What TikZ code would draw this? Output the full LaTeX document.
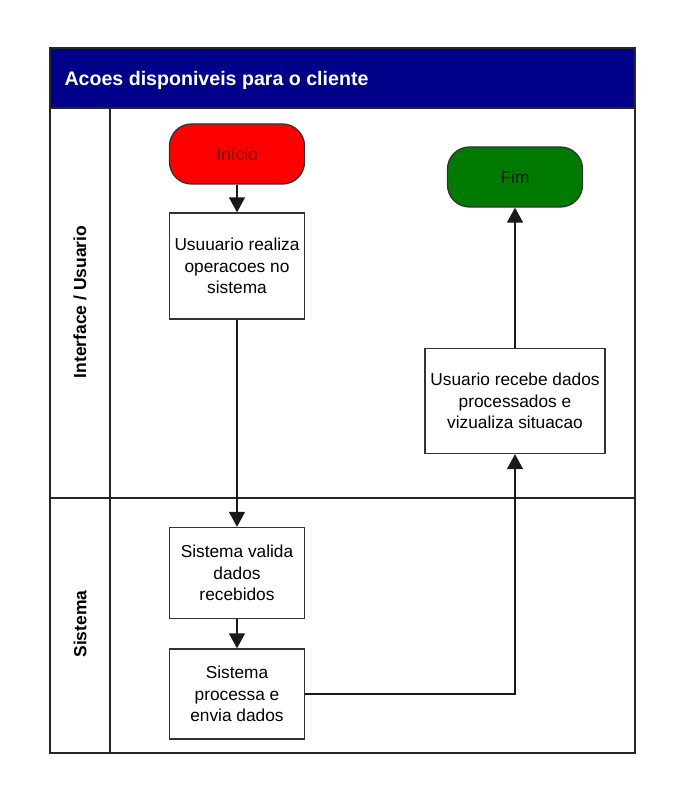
\documentclass[tikz,border=0pt]{standalone}
\usepackage{fontspec}
\setmainfont{Liberation Sans}
\usetikzlibrary{arrows.meta}

\definecolor{headblue}{HTML}{000088}
\definecolor{startred}{HTML}{FF0000}
\definecolor{endgreen}{HTML}{007A00}

\tikzset{
  lane/.style={draw=black!85, line width=1.4pt},
  box/.style={draw=black!80, fill=white, line width=1.3pt, inner sep=1pt,
    minimum width=135pt, align=center, font=\fontsize{17.3}{21.5}\selectfont},
  term/.style={box, rounded corners=22pt, minimum height=60pt},
  flow/.style={draw=black!90, line width=1.3pt, -{Triangle[length=15pt,width=16pt]}},
  lanetext/.style={rotate=90, font=\fontsize{17.5}{20}\selectfont\bfseries},
}

\begin{document}
\begin{tikzpicture}[x=1pt, y=-1pt]
    \useasboundingbox (0,0) rectangle (685,805);

    % pool and lanes
    \fill[headblue] (50,48) rectangle (635,108);
    \draw[lane] (50,48) rectangle (635,753);
    \draw[lane] (50,108) -- (635,108);
    \draw[lane] (110,108) -- (110,753);
    \draw[lane] (50,498) -- (635,498);
    \node[anchor=west, text=white, font=\fontsize{19.6}{22}\selectfont\bfseries] (title) at (61,80) {Acoes disponiveis para o cliente};
    \node[lanetext] (ui)  at (80,302) {Interface / Usuario};
    \node[lanetext] (sys) at (80,624) {Sistema};

    % steps
    \node[term, fill=startred, text=red!45!black] (ini) at (237,154) {Início};
    \node[box, minimum height=106pt] (op)   at (237,266) {Usuuario realiza\\operacoes no\\sistema};
    \node[box, minimum height=91pt]  (val)  at (237,573) {Sistema valida\\dados\\recebidos};
    \node[box, minimum height=90pt]  (proc) at (237,694) {Sistema\\processa e\\envia dados};
    \node[box, minimum width=180pt, minimum height=105pt] (rec) at (515,401) {Usuario recebe dados\\processados e\\vizualiza situacao};
    \node[term, fill=endgreen, text=green!15!black] (fim) at (515,177) {Fim};

    % connectors
    \draw[flow] (ini) -- (op);
    \draw[flow] (op) -- (val);
    \draw[flow] (val) -- (proc);
    \draw[flow] (proc.east) -| (rec.south);
    \draw[flow] (rec) -- (fim);
\end{tikzpicture}
\end{document}
